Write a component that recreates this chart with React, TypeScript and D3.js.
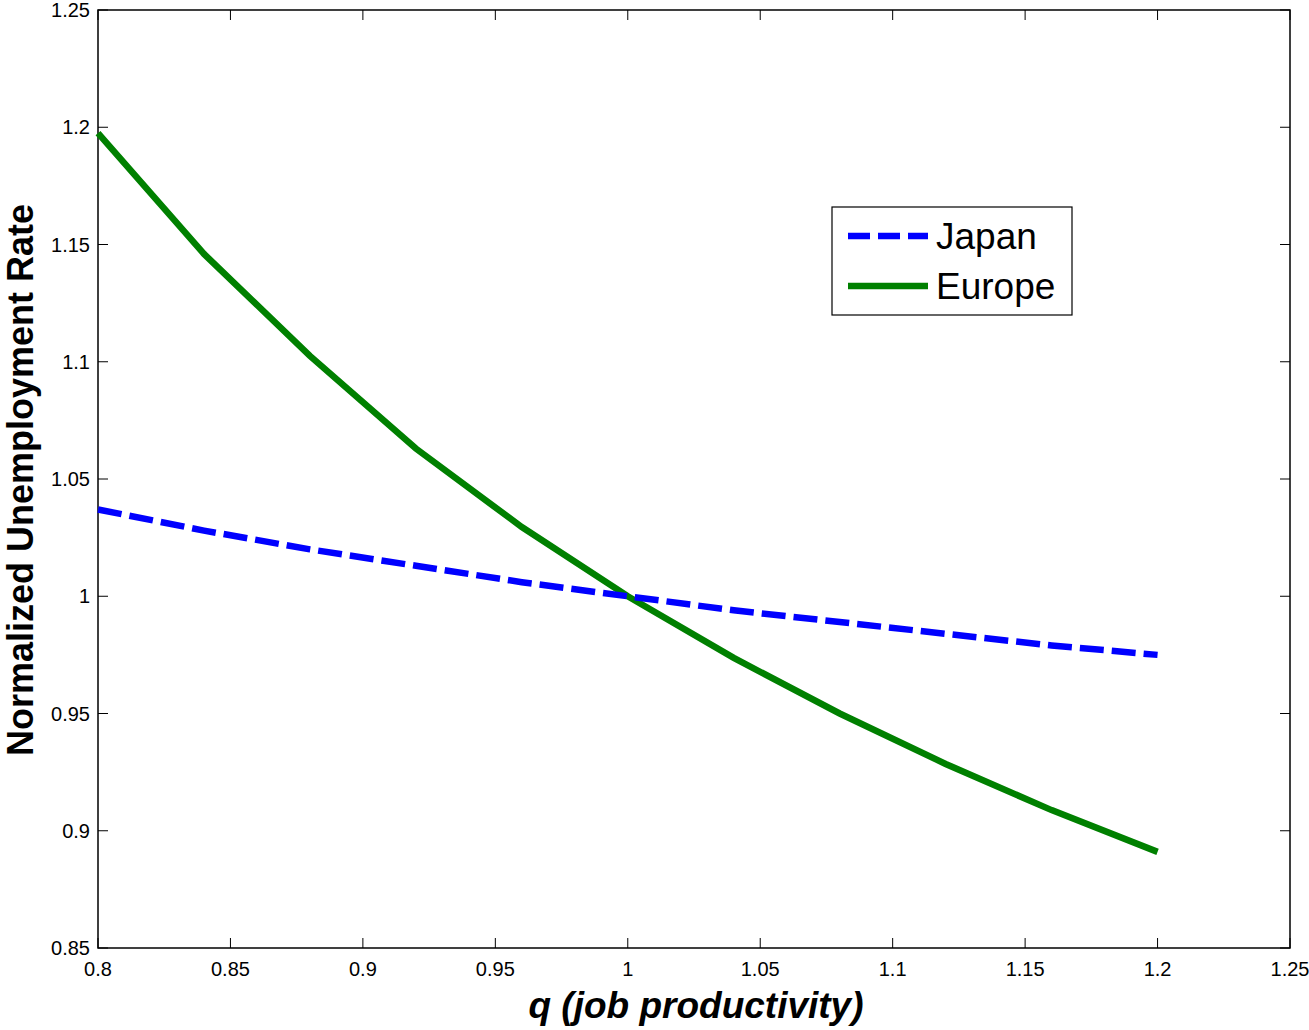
import { useRef, useEffect } from "react";
import * as d3 from "d3";

const W = 1309;
const H = 1030;
const margin = { top: 10, right: 19, bottom: 82, left: 98 };

const qValues = [0.8, 0.84, 0.88, 0.92, 0.96, 1.0, 1.04, 1.08, 1.12, 1.16, 1.2];
const japan = [1.037, 1.028, 1.020, 1.013, 1.006, 1.0, 0.994, 0.989, 0.984, 0.979, 0.975];
const europe = [1.1975, 1.146, 1.1025, 1.063, 1.0295, 1.0, 0.9737, 0.950, 0.9285, 0.9088, 0.891];
const xTicks = [0.8, 0.85, 0.9, 0.95, 1, 1.05, 1.1, 1.15, 1.2, 1.25];
const yTicks = [0.85, 0.9, 0.95, 1, 1.05, 1.1, 1.15, 1.2, 1.25];
const seriesNames = ["Japan", "Europe"];

const FONT = "'Liberation Sans', Arial, sans-serif";

export default function App() {
  const svgRef = useRef<SVGSVGElement>(null);

  useEffect(() => {
    const svg = d3.select(svgRef.current);
    svg.selectAll("*").remove();
    const iw = W - margin.left - margin.right;
    const ih = H - margin.top - margin.bottom;

    const x = d3.scaleLinear().domain([0.8, 1.25]).range([0, iw]);
    const y = d3.scaleLinear().domain([0.85, 1.25]).range([ih, 0]);

    const g = svg.append("g").attr("transform", `translate(${margin.left},${margin.top})`);

    // frame
    g.append("rect")
      .attr("width", iw).attr("height", ih)
      .attr("fill", "none").attr("stroke", "#000").attr("stroke-width", 1.5);

    const tickLen = 10;
    // ticks on all four sides, pointing inward
    xTicks.forEach((t) => {
      g.append("line").attr("x1", x(t)).attr("x2", x(t)).attr("y1", ih).attr("y2", ih - tickLen)
        .attr("stroke", "#000");
      g.append("line").attr("x1", x(t)).attr("x2", x(t)).attr("y1", 0).attr("y2", tickLen)
        .attr("stroke", "#000");
    });
    yTicks.forEach((t) => {
      g.append("line").attr("x1", 0).attr("x2", tickLen).attr("y1", y(t)).attr("y2", y(t))
        .attr("stroke", "#000");
      g.append("line").attr("x1", iw).attr("x2", iw - tickLen).attr("y1", y(t)).attr("y2", y(t))
        .attr("stroke", "#000");
    });

    g.selectAll(".xlab").data(xTicks).join("text")
      .attr("x", (d) => x(d)).attr("y", ih + 28)
      .attr("text-anchor", "middle")
      .style("font-family", FONT).style("font-size", "20px")
      .text((d) => String(d));

    g.selectAll(".ylab").data(yTicks).join("text")
      .attr("x", -8).attr("y", (d) => y(d) + 7)
      .attr("text-anchor", "end")
      .style("font-family", FONT).style("font-size", "20px")
      .text((d) => String(d));

    // axis titles
    svg.append("text")
      .attr("x", 696).attr("y", 1018)
      .attr("text-anchor", "middle")
      .style("font-family", FONT).style("font-size", "37px")
      .style("font-weight", "bold").style("font-style", "italic")
      .text("q (job productivity)");

    svg.append("text")
      .attr("transform", `translate(33,${480}) rotate(-90)`)
      .attr("text-anchor", "middle")
      .style("font-family", FONT).style("font-size", "36px")
      .style("font-weight", "bold")
      .text("Normalized Unemployment Rate");

    const line = d3.line<number>()
      .x((_, i) => x(qValues[i]))
      .y((d) => y(d));

    g.append("path").datum(europe).attr("d", line)
      .attr("fill", "none").attr("stroke", "#008000").attr("stroke-width", 6.5);
    g.append("path").datum(japan).attr("d", line)
      .attr("fill", "none").attr("stroke", "#0000ff").attr("stroke-width", 6.5)
      .attr("stroke-dasharray", "24,8");

    // legend
    const lg = svg.append("g").attr("transform", "translate(832,207)");
    lg.append("rect").attr("width", 240).attr("height", 108)
      .attr("fill", "#fff").attr("stroke", "#000").attr("stroke-width", 1.2);
    const styles = [
      { color: "#0000ff", dash: "22,8" },
      { color: "#008000", dash: null },
    ];
    seriesNames.forEach((name, i) => {
      const yy = 29 + i * 50;
      lg.append("line").attr("x1", 16).attr("x2", 96).attr("y1", yy).attr("y2", yy)
        .attr("stroke", styles[i].color).attr("stroke-width", 6.5)
        .attr("stroke-dasharray", styles[i].dash);
      lg.append("text").attr("x", 104).attr("y", yy + 13)
        .style("font-family", FONT).style("font-size", "37px")
        .text(name);
    });
  }, []);

  return (
    <svg
      ref={svgRef}
      width={W}
      height={H}
      style={{ position: "absolute", left: 0, top: 0, background: "#fff" }}
    />
  );
}
